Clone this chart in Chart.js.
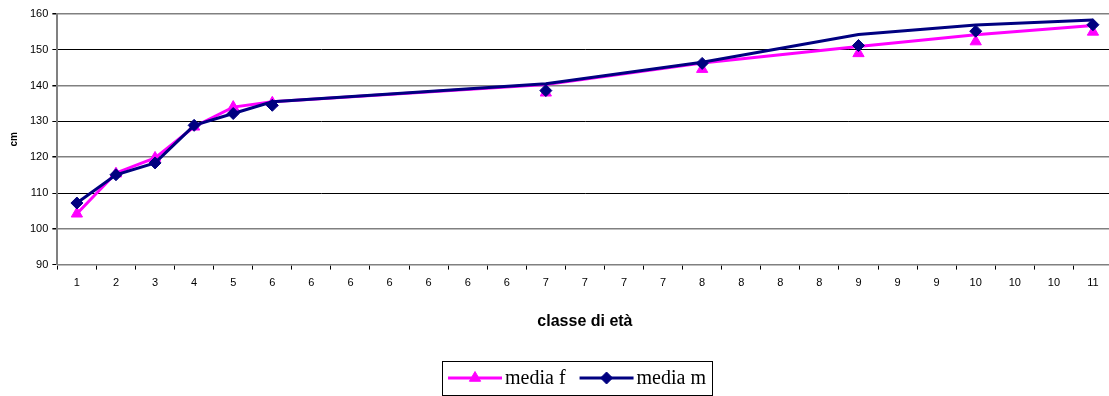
<!DOCTYPE html>
<html>
<head>
<meta charset="utf-8">
<script src="https://cdn.jsdelivr.net/npm/chart.js@4/dist/chart.umd.min.js"></script>
<style>
  html, body { margin: 0; padding: 0; background: #fff; overflow: hidden; }
  #wrap { width: 1120px; height: 396px; }
</style>
</head>
<body>
<div id="wrap"><canvas id="chart"></canvas></div>
<script>
// etichette dell'asse x (classe di età)
const categories = ["1", "2", "3", "4", "5", "6", "6", "6", "6", "6", "6", "6", "7", "7", "7", "7",
    "8", "8", "8", "8", "9", "9", "9", "10", "10", "10", "11"];

// valori dei marcatori
const mediaF = [104.2, 115.4, 119.8, 128.5, 134.0, 135.2, null, null, null, null, null, null, 138.0, null, null, null,
    144.6, null, null, null, 149.0, null, null, 152.3, null, null, 155.0];
const mediaM = [107.2, 115.1, 118.4, 128.9, 132.2, 134.5, null, null, null, null, null, null, 138.6, null, null, null,
    146.2, null, null, null, 151.2, null, null, 155.2, null, null, 157.0];

// tracciato delle linee (non passa esattamente per i marcatori dopo il 6)
const lineaF = [104.2, 115.6, 119.8, 128.5, 134.0, 135.5, null, null, null, null, null, null, 140.3, null, null, null,
    146.3, null, null, null, 150.9, null, null, 154.2, null, null, 156.8];
const lineaM = [107.2, 115.1, 118.4, 128.9, 132.2, 135.5, null, null, null, null, null, null, 140.5, null, null, null,
    146.5, null, null, null, 154.3, null, null, 156.9, null, null, 158.3];

const yTicks = [90, 100, 110, 120, 130, 140, 150, 160];

const FUCSIA = "#FF00FF";
const BLU = "#000080";

// legenda disegnata a mano: linea + marcatore + testo, dentro un riquadro
const legendaBox = {
    id: "legendaBox",
    afterDraw(chart) {
        const ctx = chart.ctx;
        const items = [
            { label: "media f", color: FUCSIA, style: "triangle", radius: 6.5 },
            { label: "media m", color: BLU, style: "rectRot", radius: 6 },
        ];
        ctx.save();
        ctx.font = '20px "Liberation Serif", "Times New Roman", serif';
        const segLen = 54, gap = 3, spacing = 14, padX = 6;
        let total = padX * 2;
        items.forEach((it, i) => {
            it.w = ctx.measureText(it.label).width;
            total += segLen + gap + it.w + (i ? spacing : 0);
        });
        const cx = 577;
        const top = 361, h = 34, yMid = top + h / 2;
        let x = cx - total / 2;
        ctx.strokeStyle = "#000";
        ctx.lineWidth = 1;
        ctx.strokeRect(Math.round(x) + 0.5, top + 0.5, Math.round(total), h);
        x += padX;
        items.forEach((it, i) => {
            if (i) x += spacing;
            ctx.strokeStyle = it.color;
            ctx.fillStyle = it.color;
            ctx.lineWidth = 3;
            ctx.beginPath();
            ctx.moveTo(x, yMid);
            ctx.lineTo(x + segLen, yMid);
            ctx.stroke();
            ctx.lineWidth = 1;
            Chart.helpers.drawPoint(ctx, { pointStyle: it.style, radius: it.radius, borderWidth: 1 }, x + segLen / 2, yMid);
            x += segLen + gap;
            ctx.fillStyle = "#000";
            ctx.textBaseline = "middle";
            ctx.textAlign = "left";
            ctx.fillText(it.label, x, yMid + 1);
            x += it.w;
        });
        ctx.restore();
    },
};

const ctx = document.getElementById("chart").getContext("2d");
new Chart(ctx, {
    type: "line",
    data: {
        labels: categories,
        datasets: [
            {
                label: "media f",
                data: lineaF,
                borderColor: FUCSIA,
                borderWidth: 3,
                pointRadius: 0,
                spanGaps: true,
                order: 4,
            },
            {
                label: "media f",
                data: mediaF,
                showLine: false,
                pointStyle: "triangle",
                pointRadius: 6.5,
                pointBackgroundColor: FUCSIA,
                pointBorderColor: FUCSIA,
                pointBorderWidth: 1,
                order: 3,
            },
            {
                label: "media m",
                data: lineaM,
                borderColor: BLU,
                borderWidth: 3,
                pointRadius: 0,
                spanGaps: true,
                order: 2,
            },
            {
                label: "media m",
                data: mediaM,
                showLine: false,
                pointStyle: "rectRot",
                pointRadius: 6,
                pointBackgroundColor: BLU,
                pointBorderColor: BLU,
                pointBorderWidth: 1,
                order: 1,
            },
        ],
    },
    options: {
        responsive: true,
        maintainAspectRatio: false,
        animation: false,
        layout: {
            padding: { left: 8, right: 4, top: 14, bottom: 65 },
        },
        plugins: {
            legend: { display: false },
            tooltip: { enabled: false },
        },
        scales: {
            x: {
                offset: true,
                grid: {
                    offset: true,
                    drawOnChartArea: false,
                    drawTicks: true,
                    tickLength: 5,
                    tickColor: "#000",
                },
                border: { color: "#808080", width: 1.5 },
                ticks: {
                    autoSkip: false,
                    maxRotation: 0,
                    padding: 7,
                    color: "#000",
                    font: { family: '"Liberation Sans", Arial, sans-serif', size: 11 },
                },
                title: {
                    display: true,
                    text: "classe di età",
                    color: "#000",
                    font: { family: '"Liberation Sans", Arial, sans-serif', size: 16, weight: "bold" },
                    padding: { top: 15, bottom: 0 },
                },
            },
            y: {
                min: yTicks[0],
                max: yTicks[yTicks.length - 1],
                afterBuildTicks: (axis) => {
                    axis.ticks = yTicks.map((v) => ({ value: v }));
                },
                grid: {
                    color: (c) => ((c.tick && c.tick.value % 20 === 10) ? "#000" : "#808080"),
                    lineWidth: (c) => ((c.tick && c.tick.value % 20 === 10) ? 1 : 1.5),
                    tickLength: 5,
                    tickColor: "#000",
                },
                border: { color: "#808080", width: 2 },
                ticks: {
                    padding: 4,
                    color: "#000",
                    font: { family: '"Liberation Sans", Arial, sans-serif', size: 11 },
                },
                title: {
                    display: true,
                    text: "cm",
                    color: "#000",
                    font: { family: '"Liberation Sans", Arial, sans-serif', size: 10, weight: "bold" },
                    padding: { top: 0, bottom: 6 },
                },
            },
        },
    },
    plugins: [legendaBox],
});
</script>
</body>
</html>
